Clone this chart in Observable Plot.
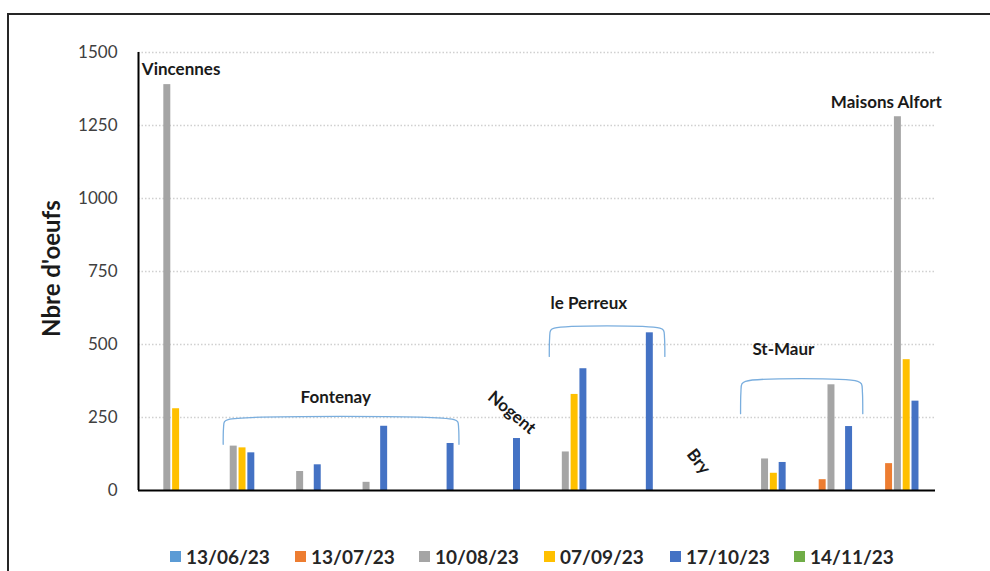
<!DOCTYPE html>
<html>
<head>
<meta charset="utf-8">
<script src="https://cdn.jsdelivr.net/npm/d3@7"></script>
<script src="https://cdn.jsdelivr.net/npm/@observablehq/plot@0.6"></script>
<style>
  body { margin: 0; background: #fff; }
  #wrap { position: relative; width: 990px; height: 571px; overflow: hidden; background: #fff; font-family: Lato, "Open Sans", sans-serif; }
  #frame { position: absolute; left: 7px; top: 13px; width: 1000px; height: 600px; border: 2px solid #262626; box-sizing: border-box; }
  #chart { position: absolute; left: 0; top: 0; }
  #legend { position: absolute; top: 545px; left: 0; width: 990px; height: 24px; }
  .item { position: absolute; top: 0; display: flex; align-items: center; font-weight: 700; font-size: 19px; color: #262626; white-space: nowrap; }
  .sw { width: 11px; height: 11px; margin-right: 5px; }
</style>
</head>
<body>
<div id="wrap">
  <div id="frame"></div>
  <div id="chart"></div>
  <div id="legend"></div>
</div>
<script>
// ---- data ----
const sites = ["Vincennes","Fontenay 1","Fontenay 2","Fontenay 3","Fontenay 4","Nogent","le Perreux 1","le Perreux 2","Bry","St-Maur 1","St-Maur 2","Maisons Alfort"];
const dates = ["13/06/23","13/07/23","10/08/23","07/09/23","17/10/23","14/11/23"];
const colors = ["#5B9BD5","#ED7D31","#A5A5A5","#FFC000","#4472C4","#70AD47"];
const v130623 = [null,null,null,null,null,null,null,null,null,null,null,null];
const v130723 = [null,null,null,null,null,null,null,null,null,null,37,92];
const v100823 = [1390,152,65,28,null,null,132,null,null,108,362,1280];
const v070923 = [280,146,null,null,null,null,329,null,null,59,null,448];
const v171023 = [null,129,88,220,161,178,417,540,null,96,219,306];
const v141123 = [null,null,null,null,null,null,null,null,null,null,null,null];
const yTicks = [0,250,500,750,1000,1250,1500];

// site-group annotations (group label, position in group units / value units)
const groupLabels = [
  {text:"Vincennes", gx:0.05, y:1441, rotate:0},
  {text:"Fontenay", gx:2.97, y:320, rotate:0},
  {text:"Nogent", gx:5.62, y:267, rotate:40},
  {text:"le Perreux", gx:6.78, y:639, rotate:0},
  {text:"Bry", gx:8.43, y:99, rotate:52},
  {text:"St-Maur", gx:9.71, y:482, rotate:0},
  {text:"Maisons Alfort", gx:11.26, y:1327, rotate:0}
];
const brackets = [
  {name:"Fontenay", from:1.28, to:4.82, top:243, bottom:158},
  {name:"le Perreux", from:6.19, to:7.92, top:556, bottom:459},
  {name:"St-Maur", from:9.07, to:10.9, top:374, bottom:263}
];

// ---- build table ----
const seriesVals = [v130623, v130723, v100823, v070923, v171023, v141123];
const step = 0.1325, bw = 0.105;
const rows = [];
seriesVals.forEach((vals, s) => {
  vals.forEach((v, i) => {
    if (v == null) return;
    const c = i + 0.5 + (s - 2.5) * step;
    rows.push({site: sites[i], date: dates[s], value: v, x1: c - bw / 2, x2: c + bw / 2});
  });
});
const bracketPts = [];
brackets.forEach(b => {
  const h = b.top - b.bottom;
  const pts = [
    [b.from - 0.005, b.bottom],
    [b.from, b.top - h * 0.35],
    [b.from + 0.015, b.top - h * 0.08],
    [b.from + 0.07, b.top],
    [b.to - 0.07, b.top],
    [b.to - 0.015, b.top - h * 0.08],
    [b.to, b.top - h * 0.35],
    [b.to + 0.005, b.bottom]
  ];
  pts.forEach(p => bracketPts.push({name: b.name, x: p[0], y: p[1]}));
});

const lblStyle = {x: "gx", y: "y", text: "text", fontSize: 17, fontWeight: 700, fill: "#1a1a1a"};
const plot = Plot.plot({
  width: 990,
  height: 530,
  marginTop: 52,
  marginBottom: 40,
  marginLeft: 138,
  marginRight: 55,
  style: {fontFamily: "Lato, 'Open Sans', sans-serif", background: "transparent"},
  x: {domain: [0, 12], axis: null},
  y: {domain: [0, 1500], axis: null},
  color: {domain: dates, range: colors},
  marks: [
    Plot.ruleY(yTicks.filter(d => d > 0), {x1: 0, x2: 12, stroke: "#d0d0d0", strokeWidth: 1.3, strokeDasharray: "1.5,2"}),
    Plot.rectY(rows, {x1: "x1", x2: "x2", y1: 0, y2: "value", fill: "date"}),
    Plot.line(bracketPts, {x: "x", y: "y", z: "name", stroke: "#7AAEDE", strokeWidth: 1.3, curve: "catmull-rom"}),
    Plot.ruleX([0], {y1: 0, y2: 1500, stroke: "#000", strokeWidth: 2}),
    Plot.ruleY([0], {x1: 0, x2: 12, stroke: "#000", strokeWidth: 2.2}),
    Plot.text(yTicks, {x: 0, y: d => d, text: d => String(d), textAnchor: "end", dx: -21, fontSize: 17, fill: "#404040"}),
    Plot.text(groupLabels.filter(d => d.text === "Vincennes"), {...lblStyle, textAnchor: "start"}),
    Plot.text(groupLabels.filter(d => d.rotate === 0 && d.text !== "Vincennes"), {...lblStyle, textAnchor: "middle"}),
    Plot.text(groupLabels.filter(d => d.rotate === 40), {...lblStyle, rotate: 40}),
    Plot.text(groupLabels.filter(d => d.rotate === 52), {...lblStyle, rotate: 52}),
    Plot.text(["Nbre d'oeufs"], {x: 0, y: 760, text: d => d, rotate: -90, dx: -86, fontSize: 24, fontWeight: 700, fill: "#1a1a1a"})
  ]
});
document.getElementById("chart").appendChild(plot);

// legend
const legendX = [170, 295, 419, 544, 670, 794];
const legend = document.getElementById("legend");
dates.forEach((d, i) => {
  const it = document.createElement("div");
  it.className = "item";
  it.style.left = legendX[i] + "px";
  const sw = document.createElement("span");
  sw.className = "sw";
  sw.style.background = colors[i];
  it.appendChild(sw);
  it.appendChild(document.createTextNode(d));
  legend.appendChild(it);
});
</script>
</body>
</html>
